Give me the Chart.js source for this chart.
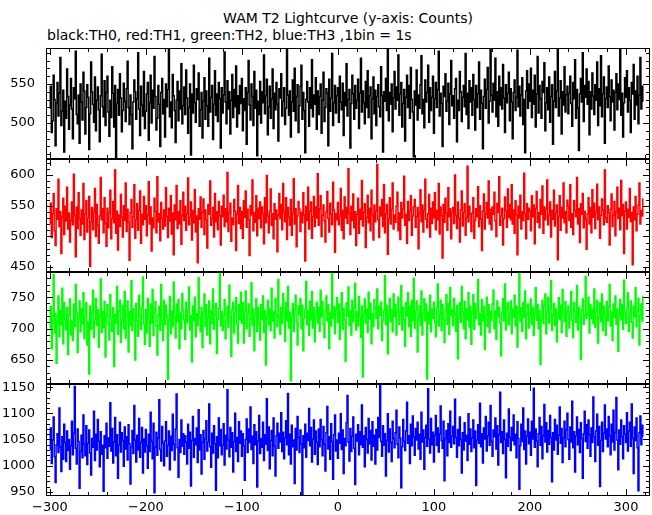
<!DOCTYPE html>
<html>
<head>
<meta charset="utf-8">
<script src="https://cdn.jsdelivr.net/npm/chart.js@4.4.1/dist/chart.umd.min.js"></script>
<style>
  body { margin: 0; background: #fff; }
  #wrap { position: relative; width: 652px; height: 515px; }
  canvas { position: absolute; left: 0; top: 0; }
  .txt { position: absolute; font-family: "DejaVu Sans", sans-serif; font-size: 14px; line-height: 16px; color: #000; white-space: nowrap; }
</style>
</head>
<body>
<div id="wrap">
  <div class="txt" style="left:46px; width:604px; top:10px; text-align:center;">WAM T2 Lightcurve (y-axis: Counts)</div>
  <div class="txt" style="left:47px; top:27px;">black:TH0, red:TH1, green:TH2, blue:TH3 ,1bin = 1s</div>
  <canvas id="c0" width="652" height="515"></canvas>
  <canvas id="c1" width="652" height="515"></canvas>
  <canvas id="c2" width="652" height="515"></canvas>
  <canvas id="c3" width="652" height="515"></canvas>
</div>
<script>
// time of first bin (s), bins are 1 s wide
const tStart = -300;

// TH0 counts per bin (black)
const th0 = [
  519,547,488,503,561,530,471,526,552,509,538,584,497,515,542,463,528,506,569,534,
  492,523,557,518,480,545,531,592,511,499,536,474,550,527,504,565,541,486,520,549,
  533,466,512,578,540,524,501,559,490,529,546,517,476,535,588,521,508,554,497,539,
  560,514,483,529,507,572,538,495,548,456,525,543,510,563,532,489,516,551,528,502,
  544,579,520,498,536,511,467,527,555,540,505,531,590,518,484,547,523,509,566,493,
  515,537,552,478,526,561,500,542,519,585,534,491,506,548,524,470,539,557,512,530,
  482,550,521,543,596,508,527,494,562,535,516,475,529,553,503,541,518,576,499,522,
  546,511,568,532,487,520,550,459,537,513,574,526,501,544,530,564,496,517,539,481,
  528,558,505,541,522,496,583,514,533,548,479,524,567,510,537,502,552,531,468,545,
  513,536,591,527,499,554,518,540,486,529,562,507,543,521,573,495,535,512,548,525,
  557,490,531,516,545,473,539,580,523,504,550,534,497,566,519,542,458,528,511,553,
  500,540,526,587,512,535,556,485,521,547,506,531,569,493,538,517,552,524,477,544,
  532,563,509,528,545,498,519,594,536,510,541,482,527,555,515,570,503,534,549,488,
  522,547,574,505,539,516,462,530,553,527,496,545,519,581,508,536,524,558,492,541,
  511,534,550,487,529,565,502,520,544,538,471,556,515,532,589,497,526,548,513,535,
  545,501,560,527,517,551,484,539,522,576,509,530,543,468,525,561,537,505,548,519,
  529,556,493,538,583,514,541,526,499,553,520,567,507,535,546,480,531,559,512,542,
  497,534,549,521,508,572,535,463,540,528,557,516,595,503,539,524,550,489,532,566,
  518,546,529,587,510,537,552,495,525,543,477,533,561,520,548,506,571,530,514,457,
  541,523,568,504,536,519,549,586,512,530,494,555,527,539,574,501,545,516,533,560,
  487,531,552,520,543,592,509,538,525,470,547,534,563,515,528,551,498,537,580,522,
  535,506,544,557,476,529,516,566,540,502,533,548,521,589,511,538,493,554,527,545,
  510,562,530,491,548,520,537,578,505,542,525,467,534,556,519,543,571,500,528,596,
  536,514,551,529,583,508,540,496,560,523,545,518,575,532,488,549,526,538,565,503,
  544,527,480,539,555,516,533,593,521,547,509,536,558,498,530,462,541,567,519,550,
  528,570,507,542,524,561,495,537,585,513,548,531,506,553,539,577,490,526,545,517,
  559,501,534,549,473,528,566,520,541,594,509,532,554,486,540,523,572,514,536,547,
  512,538,560,525,496,552,531,581,506,543,519,465,537,557,527,590,502,548,533,569,
  524,553,485,540,518,564,535,511,549,529,578,497,544,522,586,508,537,559,474,531,
  546,520,573,534,503,555,527,542,491,539,563,517,550,530,596,510,538,482,526,558,
  533,567,514,545,529,488,552,537,575,505,541,523,560,499,536,584,518,547,528
];

// TH1 counts per bin (red)
const th1 = [
  521,554,498,537,570,509,485,545,528,593,516,540,472,531,562,503,549,525,580,512,
  538,491,526,556,519,601,534,467,548,513,571,529,502,543,520,586,495,536,558,507,
  530,565,451,524,547,511,539,578,500,552,518,489,533,596,527,545,506,563,521,484,
  546,514,538,575,496,529,557,522,608,505,541,478,535,516,568,531,499,550,526,587,
  508,544,523,461,539,560,515,532,584,497,527,553,510,542,574,489,536,519,565,528,
  550,501,535,589,520,548,476,530,514,562,541,506,597,524,537,493,555,529,512,543,
  517,579,532,498,546,525,566,504,538,470,551,527,583,513,540,520,558,487,534,572,
  526,549,510,537,595,519,531,556,494,542,522,576,507,533,457,545,528,564,515,539,
  561,503,543,527,481,552,536,590,518,529,547,499,570,524,540,511,557,534,486,549,
  532,567,516,545,524,604,508,538,554,492,530,519,560,541,477,536,583,521,547,513,
  540,497,558,531,574,515,544,527,469,550,535,592,509,539,523,566,501,546,529,556,
  514,548,536,488,563,522,599,533,506,541,577,518,537,496,553,528,543,475,535,570,
  529,552,511,586,540,524,563,495,547,531,518,560,502,538,594,520,545,483,533,557,
  544,508,539,522,571,535,460,549,526,580,512,541,556,497,532,565,516,548,530,602,
  518,545,566,500,534,551,525,491,540,573,529,507,554,536,519,588,543,474,537,527,
  555,519,533,578,510,542,496,564,530,547,521,610,538,503,549,526,569,514,540,485,
  536,562,505,544,528,591,517,539,553,482,531,567,522,546,509,575,535,494,551,524,
  541,617,527,498,548,533,560,516,584,506,537,552,471,529,563,520,544,587,512,535,
  523,549,572,509,538,495,555,530,545,598,518,536,489,557,526,542,566,502,533,548,
  560,515,532,547,480,539,576,524,551,507,543,593,528,514,537,568,499,546,521,556,
  530,571,511,542,527,586,504,548,534,465,552,523,562,538,510,579,532,545,496,540,
  547,521,600,535,513,556,529,491,543,574,517,539,553,502,531,614,524,549,536,508,
  538,563,497,526,545,532,581,516,550,528,477,541,569,512,537,555,530,590,520,544,
  511,548,536,572,525,500,554,539,597,518,533,546,486,529,564,542,515,577,531,552,
  527,584,520,543,505,558,535,470,549,530,567,512,540,526,603,537,496,553,528,546,
  541,509,566,532,551,488,545,573,523,539,514,560,536,582,505,548,527,544,592,519,
  535,556,499,542,528,575,517,538,551,462,533,566,510,547,530,587,522,540,506,559,
  549,526,584,515,537,503,558,542,532,596,520,545,490,553,536,570,514,541,528,479,
  537,563,520,547,506,576,531,554,513,539,585,527,548,497,534,561,543,519,608,530,
  523,550,538,486,544,569,516,535,557,501,540,580,529,546,511,591,534,552,472,541,
  556,512,544,531,578,524,539,454,548,527,565,509,536,551,587,520,542,533,561
];

// TH2 counts per bin (green)
const th2 = [
  701,735,668,719,786,693,724,645,710,752,687,729,706,764,676,741,715,698,733,659,
  722,747,690,712,681,739,703,770,726,662,717,744,695,731,708,757,684,720,741,674,
  711,628,736,699,725,761,686,714,748,705,730,671,718,779,694,727,702,743,655,721,
  738,707,682,754,716,696,733,640,723,709,767,691,728,745,678,713,737,700,759,685,
  719,744,663,727,705,776,697,732,715,650,740,712,688,753,721,699,734,782,707,675,
  730,693,748,716,672,739,708,762,689,726,743,704,658,722,735,697,770,712,681,745,
  706,737,720,619,714,751,692,728,703,774,717,685,739,711,746,668,725,700,756,729,
  714,683,742,709,730,766,698,721,647,736,713,750,687,724,705,781,719,695,733,670,
  726,755,703,738,690,717,744,676,729,708,763,699,722,740,661,715,732,787,704,727,
  697,721,746,684,711,735,702,769,718,656,730,742,693,725,749,707,677,738,714,758,
  709,741,677,727,760,700,723,739,688,716,773,705,731,665,720,747,696,734,711,682,
  738,715,752,694,729,642,719,745,706,731,697,764,712,726,685,748,722,703,778,718,
  691,733,708,756,724,680,742,713,767,701,726,617,719,740,696,730,753,710,674,736,
  722,748,700,737,665,716,731,775,706,728,689,744,714,759,701,733,679,721,742,709,
  734,696,761,719,743,707,686,729,752,712,738,668,725,704,788,717,735,692,730,749,
  710,739,683,726,757,699,732,714,648,741,720,766,705,728,690,745,711,734,772,698,
  727,704,751,718,686,736,623,722,747,709,731,694,758,715,740,676,724,703,746,733,
  716,763,700,735,721,742,681,713,729,784,706,737,660,723,748,711,730,695,755,719,
  738,690,727,750,707,725,768,698,734,714,672,741,720,757,703,736,688,745,712,780,
  701,729,744,663,718,736,705,760,690,724,747,712,739,620,726,708,753,695,731,716,
  742,710,687,733,771,704,722,745,697,738,715,678,729,754,707,740,691,765,721,730,
  705,748,725,696,737,652,719,741,710,767,727,700,743,684,731,714,757,702,735,675,
  726,754,699,740,716,730,778,706,724,690,746,712,735,667,721,750,703,738,694,727,
  713,739,761,700,728,683,744,719,734,709,657,725,748,712,771,698,730,741,706,722,
  744,692,731,718,753,704,736,671,726,789,711,733,696,742,718,760,684,723,739,701,
  720,747,707,734,689,724,765,713,738,700,729,643,717,745,708,736,755,692,727,750,
  709,733,776,697,722,740,705,731,679,718,749,715,737,694,762,724,711,743,688,728,
  736,701,725,759,713,686,742,727,710,768,698,734,720,651,730,747,707,721,783,716,
  724,750,693,738,716,731,708,763,702,729,745,677,719,741,711,755,697,735,722,689,
  743,712,734,770,704,726,681,739,718,752,707,731,664,723,746,714,738,699,777,725,
  708,732,757,696,720,744,710,685,736,719,765,703,728,748,674,721,739,712,751
];

// TH3 counts per bin (blue)
const th3 = [
  1031,1072,1004,1049,1093,1017,968,1040,1061,1025,1110,1036,989,1055,1012,1079,1044,1008,1066,1029,
  1050,993,1038,1085,1021,1062,1151,1033,1003,1070,1046,957,1027,1058,1015,1097,1041,1019,1076,1002,
  1043,1068,1024,982,1052,1035,1104,1010,1060,1030,1088,1047,998,1065,1022,1039,951,1057,1034,1081,
  1014,1053,1037,1120,1028,1071,1005,1045,1092,1019,1059,976,1040,1083,1026,1063,1048,999,1074,1032,
  1055,1011,1078,1042,965,1036,1067,1023,1115,1049,1007,1058,1030,1090,1016,1044,1073,986,1051,1026,
  1069,1038,995,1060,1027,1102,1046,1013,1081,948,1035,1064,1020,1053,1126,1031,1009,1075,1043,1000,
  1047,1084,1018,1039,1066,992,1056,1029,1098,1041,1011,1070,1137,1034,978,1050,1025,1087,1037,1061,
  1022,1057,1045,1003,1079,1033,1064,961,1048,1094,1016,1052,1040,1072,1006,1107,1030,1059,984,1044,
  1067,1012,1051,1086,1028,1045,1118,1036,997,1062,1024,1076,1042,953,1055,1015,1091,1038,1069,1021,
  1039,1080,1001,1058,1032,1145,1049,1017,1073,1035,1063,988,1046,1100,1027,1054,1008,1084,1043,1066,
  1018,1061,1037,972,1050,1089,1025,1070,1044,1112,1031,1056,1004,1078,1040,1065,959,1047,1096,1023,
  1052,1035,1083,1010,1059,1041,1128,1029,1074,994,1048,1067,1019,1091,1037,980,1057,1081,1033,1062,
  1045,1101,1027,1064,1013,1053,1086,1040,1138,1021,1060,1003,1077,1036,1049,966,1071,1030,1094,1054,
  1025,1068,1042,945,1057,1034,1079,1016,1062,1048,1109,1038,1073,1007,1051,1087,1022,1066,1044,1002,
  1070,1036,1088,1050,1019,1075,1041,990,1063,1113,1032,1055,1012,1080,1046,974,1059,1097,1028,1049,
  1014,1062,1043,1099,1031,1068,985,1052,1038,1082,1134,1045,1009,1071,1027,1056,1093,1033,964,1060,
  1047,1078,1021,1065,1040,1116,1035,1057,998,1073,1050,1024,1090,1042,1067,1011,1084,1037,1058,1003,
  1069,1030,1092,1054,1153,1046,1018,1076,1039,1061,980,1048,1099,1026,1070,1044,1008,1085,1052,1034,
  1063,1106,1041,1015,1074,1053,958,1036,1088,1047,1029,1066,1121,1043,1057,1004,1079,1038,1095,1055,
  1020,1071,1049,1083,1032,1060,1012,1102,1045,1068,993,1054,1077,1037,1147,1051,1024,1090,1040,1064,
  1007,1058,1096,1039,1072,1026,1061,1114,1048,1033,1085,971,1052,1067,1019,1080,1044,1104,1035,1056,
  1075,1042,1127,1054,1016,1069,1038,1093,1050,986,1063,1030,1082,1047,1058,1010,1099,1041,1070,1027,
  1053,1087,1034,1066,962,1049,1078,1043,1119,1036,1061,1005,1072,1051,1094,1028,1057,1083,1039,1115,
  1046,1018,1068,1055,1091,1032,1076,1001,1059,1140,1044,1065,1023,1087,1050,977,1062,1037,1108,1054,
  1029,1073,1048,1097,1040,1060,1015,1084,1052,955,1038,1079,1046,1110,1031,1066,1003,1056,1089,1042,
  1064,1020,1085,1051,1148,1035,1070,1047,998,1061,1092,1039,1075,1013,1057,1117,1045,1082,1026,1067,
  1041,1096,1054,969,1063,1030,1088,1049,1077,1022,1058,1112,1043,1071,1006,1053,1085,1036,1068,1100,
  1050,1012,1074,1045,1123,1034,1065,988,1057,1093,1040,1069,1025,1082,1052,976,1061,1104,1046,1078,
  1033,1087,1059,1018,1072,1044,1131,1055,1008,1066,1098,1039,1075,960,1048,1083,1027,1062,1116,1051,
  1070,1036,1094,1057,1021,1079,1045,1106,1030,1064,1130,1049,992,1068,1041,1087,1055,1013,1076,1060,
  1044,1101,1028,1066,1083,1037,1118,1052,985,1074,1048,1091,1034,952,1063,1095,1040,1077,1056
];

// tick labels
const xTicks = [-300, -200, -100, 0, 100, 200, 300];
const yTicks0 = [500, 550];
const yTicks1 = [450, 500, 550, 600];
const yTicks2 = [650, 700, 750];
const yTicks3 = [950, 1000, 1050, 1100, 1150];

const X_MIN = -304, X_MAX = 325;
const FONT = { family: 'DejaVu Sans', size: 13 };

// panel layout (canvas px), one chart per panel
const panels = [
  { id: 'c0', vals: th0, color: '#000000', yMin: 454, yMax: 596, yTicks: yTicks0, top: 48,  bottom: 159 },
  { id: 'c1', vals: th1, color: '#ff0000', yMin: 442, yMax: 626, yTicks: yTicks1, top: 159, bottom: 272 },
  { id: 'c2', vals: th2, color: '#00ff00', yMin: 612, yMax: 790, yTicks: yTicks2, top: 272, bottom: 384 },
  { id: 'c3', vals: th3, color: '#0000ff', yMin: 942, yMax: 1156, yTicks: yTicks3, top: 384, bottom: 496, showX: true }
];

// frame + inward ticks on all four sides, placed with the chart's scales
const frameTicks = {
  id: 'frameTicks',
  afterDatasetsDraw(chart) {
    const { ctx, chartArea: a, scales: { x, y } } = chart;
    ctx.save();
    ctx.strokeStyle = '#000';
    ctx.lineWidth = 1;
    ctx.beginPath();
    for (let v = -300; v <= x.max; v += 20) {
      const px = Math.round(x.getPixelForValue(v)) + 0.5;
      const len = v % 100 === 0 ? 7 : 4;
      ctx.moveTo(px, a.top); ctx.lineTo(px, a.top + len);
      ctx.moveTo(px, a.bottom); ctx.lineTo(px, a.bottom - len);
    }
    for (let v = Math.ceil(y.min / 10) * 10; v <= y.max; v += 10) {
      const py = Math.round(y.getPixelForValue(v)) + 0.5;
      const len = v % 50 === 0 ? 7 : 4;
      ctx.moveTo(a.left, py); ctx.lineTo(a.left + len, py);
      ctx.moveTo(a.right, py); ctx.lineTo(a.right - len, py);
    }
    ctx.stroke();
    ctx.strokeRect(a.left + 0.5, a.top + 0.5, a.right - a.left - 1, a.bottom - a.top - 1);
    ctx.restore();
  }
};

const fmt = v => String(v).replace('-', '\u2212');

panels.forEach(p => {
  const pts = p.vals.map((v, i) => ({ x: tStart + i, y: v }));
  new Chart(document.getElementById(p.id), {
    type: 'line',
    data: {
      datasets: [{
        data: pts,
        borderColor: p.color,
        borderWidth: 1.5,
        pointRadius: 0,
        stepped: 'middle',
        fill: false
      }]
    },
    options: {
      responsive: false,
      animation: false,
      events: [],
      layout: { padding: { top: p.top, bottom: p.showX ? 0 : 515 - p.bottom, left: 0, right: 2 } },
      plugins: { legend: { display: false }, tooltip: { enabled: false }, title: { display: false } },
      scales: {
        x: {
          type: 'linear',
          display: !!p.showX,
          min: X_MIN, max: X_MAX,
          grid: { display: false, drawTicks: false },
          border: { display: false },
          ticks: { font: FONT, color: '#000', padding: 4, maxRotation: 0, autoSkip: false, callback: fmt },
          afterBuildTicks: s => { s.ticks = xTicks.map(v => ({ value: v })); },
          afterFit: s => {
            s.height = p.showX ? 19 : 0;
            s.paddingLeft = 0; s.paddingRight = 0;
          }
        },
        y: {
          min: p.yMin, max: p.yMax,
          grid: { display: false, drawTicks: false },
          border: { display: false },
          ticks: { font: FONT, color: '#000', padding: 11, callback: fmt },
          afterBuildTicks: s => { s.ticks = p.yTicks.map(v => ({ value: v })); },
          afterFit: s => { s.width = 46; s.paddingTop = 0; s.paddingBottom = 0; }
        }
      }
    },
    plugins: [frameTicks]
  });
});
</script>
</body>
</html>
